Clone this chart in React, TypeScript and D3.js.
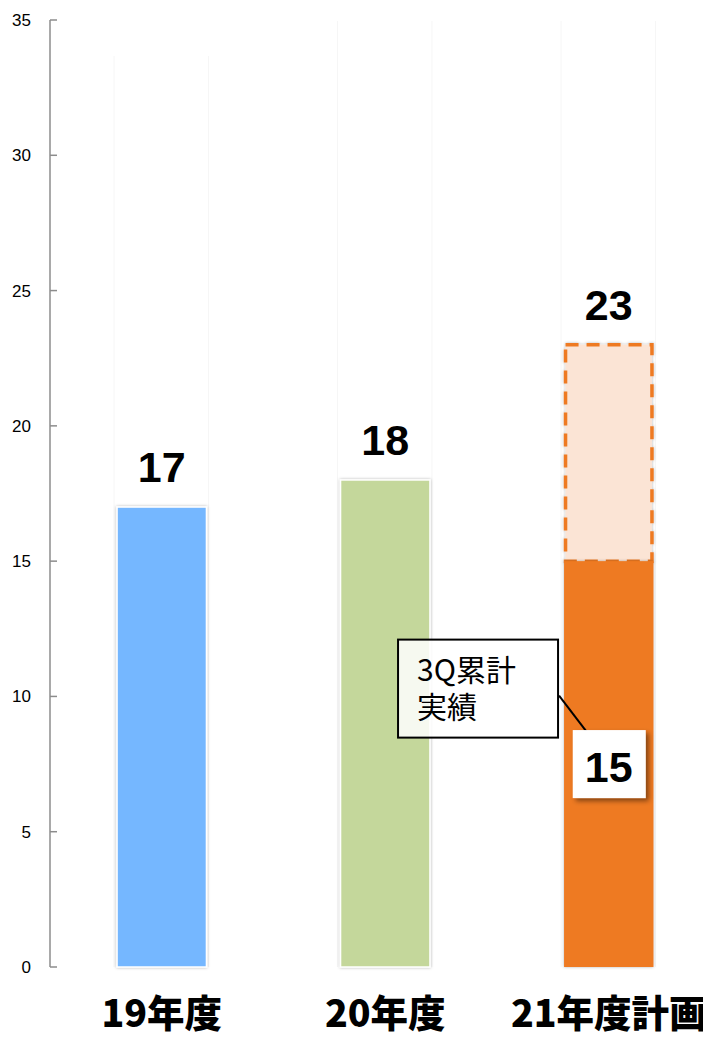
import * as d3 from "d3";
import { useEffect } from "react";

// 年度別の値
const categories = ["19年度", "20年度", "21年度計画"];
const actualValues = [17, 18, 15];
const planValues: (number | null)[] = [null, null, 23];
const barColors = ["#75b7ff", "#c4d79b", "#ee7a22"];
const yTicks = [0, 5, 10, 15, 20, 25, 30, 35];
const calloutLines = ["3Q累計", "実績"];

const W = 703;
const H = 1038;

export default function App() {
  useEffect(() => {
    document.body.style.margin = "0";
  }, []);

  const x = d3
    .scaleBand<string>()
    .domain(categories)
    .range([50, 720.5])
    .paddingInner(0.6)
    .paddingOuter(0.3);
  const y = d3.scaleLinear().domain([0, 35]).range([967, 20]);
  const bw = x.bandwidth();

  const num = "'Liberation Sans', Arial, sans-serif";
  const jp = "'Noto Sans CJK JP', sans-serif";

  // callout anchored on the last bar
  const last = categories[categories.length - 1];
  const lastX = x(last)!;
  const lastVal = actualValues[actualValues.length - 1];
  const labelCx = lastX + bw / 2;
  const labelCy = y(lastVal / 2);
  const boxRight = lastX - 6;
  const boxLeft = boxRight - 160;
  const boxTop = y(12.1);
  const boxH = 98;

  return (
    <svg width={W} height={H} style={{ display: "block", background: "#fff" }}>
      <defs>
        <filter id="barShadow" x="-10%" y="-5%" width="120%" height="110%">
          <feDropShadow dx="0" dy="0" stdDeviation="1.5" floodColor="#000" floodOpacity="0.3" />
        </filter>
        <filter id="boxShadow" x="-20%" y="-20%" width="150%" height="150%">
          <feDropShadow dx="3" dy="3" stdDeviation="2.5" floodColor="#000" floodOpacity="0.45" />
        </filter>
      </defs>

      {/* faint vertical guides at bar edges */}
      {categories.map((c, i) => (
        <g key={"g" + c} stroke="#f6f6f6" strokeWidth={1}>
          <line x1={x(c)! - 3} x2={x(c)! - 3} y1={i === 0 ? 56 : 21} y2={y(0)} />
          <line x1={x(c)! + bw + 2} x2={x(c)! + bw + 2} y1={i === 0 ? 56 : 21} y2={y(0)} />
        </g>
      ))}

      {/* y axis */}
      <line x1={50} x2={50} y1={y(35)} y2={y(0)} stroke="#8c8c8c" strokeWidth={1.5} />
      {yTicks.map((t) => (
        <g key={t}>
          <line x1={50} x2={57} y1={y(t)} y2={y(t)} stroke="#8c8c8c" strokeWidth={1.5} />
          <text
            x={31}
            y={y(t)}
            dy="0.35em"
            textAnchor="end"
            fontFamily={num}
            fontSize={17}
            fill="#000"
          >
            {t}
          </text>
        </g>
      ))}

      {/* plan bars (dashed) */}
      {categories.map((c, i) => {
        const p = planValues[i];
        if (p == null) return null;
        return (
          <rect
            key={"p" + c}
            x={x(c)! + 1.5}
            y={y(p)}
            width={bw - 3}
            height={y(actualValues[i]) - y(p)}
            fill="#fbe4d5"
            stroke={barColors[i]}
            strokeWidth={3.5}
            strokeDasharray="13,8"
            filter="url(#barShadow)"
          />
        );
      })}

      {/* actual bars */}
      {categories.map((c, i) => (
        <rect
          key={"a" + c}
          x={x(c)!}
          y={y(actualValues[i])}
          width={bw}
          height={y(0) - y(actualValues[i])}
          fill={barColors[i]}
          stroke={i < 2 ? "#fff" : "none"}
          strokeWidth={1.5}
          filter="url(#barShadow)"
        />
      ))}

      {/* baseline */}
      <line x1={50} x2={W} y1={y(0)} y2={y(0)} stroke="#999" strokeWidth={2} filter="url(#barShadow)" />

      {/* value labels above bars */}
      {categories.map((c, i) => {
        const top = planValues[i] ?? actualValues[i];
        return (
          <text
            key={"v" + c}
            x={x(c)! + bw / 2}
            y={y(top) - 25}
            textAnchor="middle"
            fontFamily={num}
            fontWeight="bold"
            fontSize={43}
            fill="#000"
          >
            {top}
          </text>
        );
      })}

      {/* callout */}
      <line
        x1={boxRight + 1}
        y1={boxTop + 56}
        x2={labelCx - 18}
        y2={labelCy - 27}
        stroke="#000"
        strokeWidth={2}
      />
      <rect
        x={boxLeft}
        y={boxTop}
        width={boxRight - boxLeft}
        height={boxH}
        fill="#fff"
        fillOpacity={0.85}
        stroke="#000"
        strokeWidth={2}
      />
      <text
        x={boxLeft + 19}
        y={boxTop + 41}
        fontFamily={jp}
        fontSize={30}
        fontWeight={400}
        fill="#000"
      >
        {calloutLines.map((t, i) => (
          <tspan key={t} x={boxLeft + 19} dy={i === 0 ? 0 : 37}>
            {t}
          </tspan>
        ))}
      </text>

      {/* inside label for actual value */}
      <rect
        x={labelCx - 36}
        y={labelCy - 34}
        width={73}
        height={68}
        fill="#fff"
        filter="url(#boxShadow)"
      />
      <text
        x={labelCx}
        y={labelCy + 18}
        textAnchor="middle"
        fontFamily={num}
        fontWeight="bold"
        fontSize={43}
        fill="#000"
      >
        {lastVal}
      </text>

      {/* category labels */}
      {categories.map((c) => (
        <text
          key={"c" + c}
          x={x(c)! + bw / 2}
          y={1027}
          textAnchor="middle"
          fontFamily={jp}
          fontWeight={900}
          fontSize={37.5}
          fill="#000"
        >
          {c}
        </text>
      ))}
    </svg>
  );
}
